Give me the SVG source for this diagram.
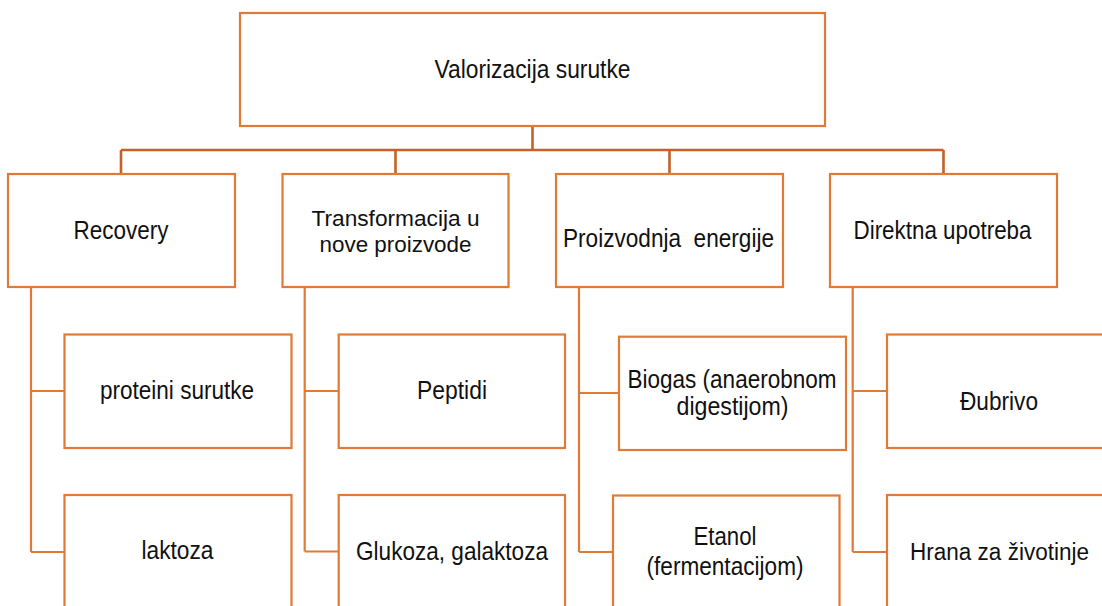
<svg xmlns="http://www.w3.org/2000/svg" width="1102" height="606" viewBox="0 0 1102 606">
  <style>
    .box { fill: #ffffff; stroke: #E07A35; stroke-width: 2.2; }
    .link { fill: none; stroke: #E07A35; stroke-width: 2.2; }
    .trunk { fill: none; stroke: #C4622A; stroke-width: 2.6; }
    .lbl { font-family: "Liberation Sans", Arial, sans-serif; font-size: 25px; fill: #111111; text-anchor: middle; }
    .tight { font-size: 22.5px; }
    .edge { font-size: 23.5px; }
  </style>
  <rect width="1102" height="606" fill="#ffffff"/>

  <!-- connectors -->
  <g id="connectors">
    <path class="trunk" d="M532.5 126 V150 M121 150 H943.5 M121 150 V174 M395.5 150 V174 M669.5 150 V174 M943.5 150 V174"/>
    <path class="link" d="M31 287 V552 M31 391 H64.5 M31 552 H64.5"/>
    <path class="link" d="M304.7 287 V551.5 M304.7 391 H338.7 M304.7 551.5 H338.7"/>
    <path class="link" d="M579 287 V552 M579 393 H619 M579 552 H613"/>
    <path class="link" d="M852.7 287 V552 M852.7 391 H887 M852.7 552 H887"/>
  </g>

  <!-- root -->
  <g id="root">
    <rect class="box" x="240" y="13" width="585" height="113"/>
    <text class="lbl" x="532.5" y="77.5" textLength="196" lengthAdjust="spacingAndGlyphs">Valorizacija surutke</text>
  </g>

  <!-- first level -->
  <g id="recovery">
    <rect class="box" x="8" y="174" width="227" height="113"/>
    <text class="lbl" x="121" y="238.5" textLength="95" lengthAdjust="spacingAndGlyphs">Recovery</text>
  </g>
  <g id="transformacija">
    <rect class="box" x="282.5" y="174" width="226" height="113"/>
    <text class="lbl tight" x="395.5" y="226" textLength="168" lengthAdjust="spacingAndGlyphs">Transformacija u</text>
    <text class="lbl tight" x="395.5" y="252" textLength="152" lengthAdjust="spacingAndGlyphs">nove proizvode</text>
  </g>
  <g id="energija">
    <rect class="box" x="556" y="174" width="227" height="113"/>
    <text class="lbl" x="668.5" y="246.5" xml:space="preserve" textLength="211" lengthAdjust="spacingAndGlyphs">Proizvodnja  energije</text>
  </g>
  <g id="direktna">
    <rect class="box" x="830" y="174" width="227" height="113"/>
    <text class="lbl" x="942.5" y="238.5" textLength="178" lengthAdjust="spacingAndGlyphs">Direktna upotreba</text>
  </g>

  <!-- second level (bottom row and right column run past the page edge) -->
  <g id="proteini">
    <rect class="box" x="64.5" y="334.5" width="227" height="113.5"/>
    <text class="lbl" x="177" y="399" textLength="154" lengthAdjust="spacingAndGlyphs">proteini surutke</text>
  </g>
  <g id="laktoza">
    <rect class="box" x="64.5" y="495" width="227" height="113"/>
    <text class="lbl" x="177.5" y="559" textLength="72" lengthAdjust="spacingAndGlyphs">laktoza</text>
  </g>
  <g id="peptidi">
    <rect class="box" x="338.7" y="334.5" width="226.3" height="113.5"/>
    <text class="lbl" x="452" y="399" textLength="70" lengthAdjust="spacingAndGlyphs">Peptidi</text>
  </g>
  <g id="glukoza">
    <rect class="box" x="338.7" y="495" width="226.3" height="113"/>
    <text class="lbl" x="452" y="560" textLength="192" lengthAdjust="spacingAndGlyphs">Glukoza, galaktoza</text>
  </g>
  <g id="biogas">
    <rect class="box" x="619" y="336.7" width="227" height="113.3"/>
    <text class="lbl" x="732" y="387.5" textLength="209" lengthAdjust="spacingAndGlyphs">Biogas (anaerobnom</text>
    <text class="lbl" x="732.5" y="415" textLength="112" lengthAdjust="spacingAndGlyphs">digestijom)</text>
  </g>
  <g id="etanol">
    <rect class="box" x="613" y="495.5" width="226.5" height="112.5"/>
    <text class="lbl" x="725" y="545" textLength="63" lengthAdjust="spacingAndGlyphs">Etanol</text>
    <text class="lbl" x="725" y="575" textLength="157" lengthAdjust="spacingAndGlyphs">(fermentacijom)</text>
  </g>
  <g id="djubrivo">
    <rect class="box" x="887" y="334.5" width="217" height="113.5"/>
    <text class="lbl" x="999" y="410" textLength="78" lengthAdjust="spacingAndGlyphs">Đubrivo</text>
  </g>
  <g id="hrana">
    <rect class="box" x="887" y="495" width="217" height="113"/>
    <text class="lbl edge" x="999.5" y="559.5" textLength="179" lengthAdjust="spacingAndGlyphs">Hrana za životinje</text>
  </g>
</svg>
